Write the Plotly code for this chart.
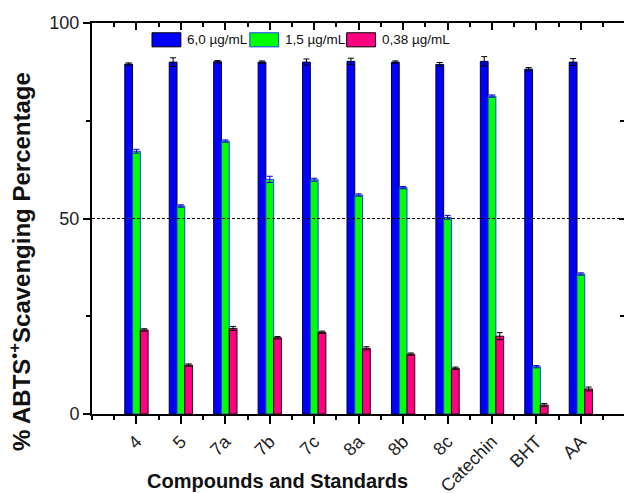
import plotly.graph_objects as go

categories = ["4", "5", "7a", "7b", "7c", "8a", "8b", "8c", "Catechin", "BHT", "AA"]
series_names = ["6,0 µg/mL", "1,5 µg/mL", "0,38 µg/mL"]
v60 = [89.5, 90.0, 90.1, 90.0, 90.0, 90.2, 90.0, 89.4, 90.2, 88.2, 90.0]
e60 = [0.3, 1.1, 0.3, 0.3, 0.8, 0.8, 0.3, 0.5, 1.2, 0.4, 0.9]
v15 = [67.2, 53.2, 69.8, 60.0, 59.9, 56.0, 57.9, 50.3, 81.3, 12.1, 35.8]
e15 = [0.5, 0.3, 0.3, 0.8, 0.4, 0.3, 0.3, 0.5, 0.3, 0.3, 0.3]
v038 = [21.5, 12.5, 21.9, 19.5, 20.9, 16.8, 15.3, 11.7, 19.9, 2.3, 6.4]
e038 = [0.3, 0.3, 0.5, 0.3, 0.3, 0.4, 0.3, 0.3, 0.9, 0.4, 0.5]
y_ticks = [0, 50, 100]

fills = ["#0000FF", "#00FF00", "#FF0080"]
outlines = ["#000033", "#1a3cff", "#330011"]
err_cols = ["#000000", "#0000CC", "#000000"]

xpos = list(range(1, len(categories) + 1))
FONT = "Arial, Liberation Sans, sans-serif"

fig = go.Figure()
for name, vals, errs, fc, oc, ec in zip(series_names, [v60, v15, v038], [e60, e15, e038],
                                        fills, outlines, err_cols):
    fig.add_trace(go.Bar(
        x=xpos, y=vals, name=name, showlegend=False,
        marker=dict(color=fc, line=dict(color=oc, width=1)),
        error_y=dict(type="data", array=errs, visible=True, color=ec, thickness=1, width=3),
    ))

# invisible companion trace so the mirrored top/right axes get drawn
fig.add_trace(go.Scatter(x=xpos, y=v60, xaxis="x2", yaxis="y2", mode="none",
                         showlegend=False, hoverinfo="skip"))

# y=50 dashed reference line
fig.add_shape(type="line", xref="paper", x0=0, x1=1, yref="y", y0=50, y1=50,
              line=dict(color="black", width=1, dash="3px,2px"), layer="above")

# manual legend (wide swatches)
leg_x = [1.35, 3.55, 5.73]
for i, (name, fc, oc) in enumerate(zip(series_names, fills, ["#000000", "#1a3cff", "#000000"])):
    fig.add_shape(type="rect", xref="x", yref="y", x0=leg_x[i], x1=leg_x[i] + 0.65,
                  y0=93.9, y1=97.5, fillcolor=fc, line=dict(color=oc, width=1))
    fig.add_annotation(x=leg_x[i] + 0.74, y=95.7, xref="x", yref="y", text=name,
                       showarrow=False, xanchor="left", yanchor="middle",
                       font=dict(family=FONT, size=13.5, color="#111"))

fig.add_annotation(x=-0.135, y=0.389, xref="paper", yref="paper",
                   text="<b>% ABTS<sup>•+</sup>Scavenging Percentage</b>", textangle=-90,
                   showarrow=False, xanchor="center", yanchor="middle",
                   font=dict(family=FONT, size=24, color="#111"))
fig.add_annotation(x=0.348, y=-0.172, xref="paper", yref="paper",
                   text="<b>Compounds and Standards</b>", showarrow=False,
                   xanchor="center", yanchor="middle",
                   font=dict(family=FONT, size=20, color="#111"))

xr = [0, 11.97]
minor_x = [0] + [i + 0.5 for i in range(0, 12)] + [12]
fig.update_layout(
    width=624, height=493,
    margin=dict(l=92, r=0, t=23, b=79, autoexpand=False),
    plot_bgcolor="white", paper_bgcolor="white",
    barmode="group", bargap=0.475, bargroupgap=0,
    font=dict(family=FONT, size=18, color="#222"),
    xaxis=dict(range=xr, tickmode="array", tickvals=xpos, automargin=False,
               ticktext=categories, tickangle=-45,
               ticks="outside", ticklen=8, tickwidth=1.5, tickcolor="black",
               ticklabelstandoff=0,
               minor=dict(tickvals=minor_x, ticks="outside", ticklen=4, tickwidth=1.5, tickcolor="black"),
               showline=True, linecolor="black", linewidth=2, showgrid=False, zeroline=False,
               tickfont=dict(size=18)),
    xaxis2=dict(range=xr, overlaying="x", side="top", anchor="y2", tickmode="array",
                tickvals=xpos, showticklabels=False, automargin=False,
                ticks="inside", ticklen=7, tickwidth=1.5, tickcolor="black",
                minor=dict(tickvals=minor_x, ticks="inside", ticklen=4, tickwidth=1.5, tickcolor="black"),
                showline=True, linecolor="black", linewidth=2, showgrid=False, zeroline=False),
    yaxis=dict(range=[0, 100], tickmode="array", tickvals=y_ticks, automargin=False,
               ticks="outside", ticklen=7, tickwidth=1.5, tickcolor="black",
               minor=dict(tickvals=[25, 75], ticks="outside", ticklen=4, tickwidth=1.5, tickcolor="black"),
               showline=True, linecolor="black", linewidth=2, showgrid=False, zeroline=False,
               tickfont=dict(size=18)),
    yaxis2=dict(range=[0, 100], overlaying="y", side="right", anchor="x2", tickmode="array",
                tickvals=y_ticks, showticklabels=False, automargin=False,
                ticks="inside", ticklen=5, tickwidth=1.5, tickcolor="black",
                minor=dict(tickvals=[25, 75], ticks="inside", ticklen=4, tickwidth=1.5, tickcolor="black"),
                showline=False, showgrid=False, zeroline=False),
)
fig.write_html("out.html")
